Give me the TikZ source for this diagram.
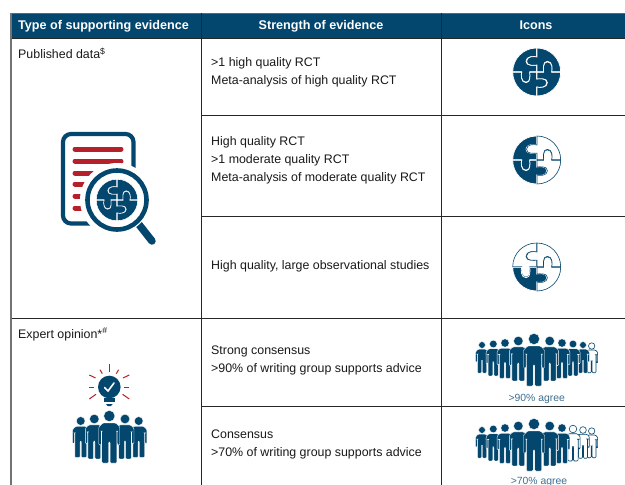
\documentclass[tikz,border=0pt]{standalone}
\usepackage{fontspec}
\setmainfont{Liberation Sans}
\definecolor{navy}{HTML}{03466E}
\definecolor{evred}{HTML}{B5202A}
\definecolor{agree}{HTML}{3F6F91}
\tikzset{
  body/.style={anchor=base west,inner sep=0pt,font=\fontsize{12.4}{14}\selectfont,text=black!90},
  head/.style={anchor=base,inner sep=0pt,text=white,font=\fontsize{12.6}{14}\selectfont\bfseries},
  rule/.style={line width=1pt,black!85},
  agreelabel/.style={anchor=base,inner sep=0pt,text=agree,font=\fontsize{10.4}{12}\selectfont},
  solidpiece/.style={fill=navy,draw=white,line width=.75pt},
  smallpiece/.style={fill=navy,draw=white,line width=.55pt},
  hollowpiece/.style={fill=white,draw=navy,line width=.6pt},
  solidperson/.style={fill=navy,draw=white,line width=.35pt},
  hollowperson/.style={fill=white,draw=navy,line width=.6pt},
  ray/.style={evred,line width=1pt},
  docline/.style={evred,line width=5pt,line cap=round}
}
% piece: rotation, style
\newcommand{\evpiece}[2]{%
  \begin{scope}[rotate=#1,shift={(-.012,.012)}]
  \path[#2] (0,0)--(-.28,0) .. controls (-.28,-.1) and (-.22,-.44) .. (-.44,-.44)
    .. controls (-.66,-.44) and (-.66,-.1) .. (-.62,0) -- (-1,0)
    arc[start angle=180,end angle=90,radius=1] -- (0,.62)
    .. controls (-.1,.66) and (-.44,.66) .. (-.44,.44)
    .. controls (-.44,.22) and (-.1,.28) .. (0,.28) -- cycle;
  \end{scope}}
% puzzle: x, y, r, TL, BL, BR, TR styles
\newcommand{\evpuzzle}[7]{%
  \begin{scope}[shift={(#1,#2)},x=#3pt,y=#3pt]
  \evpiece{0}{#4}\evpiece{90}{#5}\evpiece{180}{#6}\evpiece{270}{#7}
  \end{scope}}
% person: x, head y, scale, style
\newcommand{\evperson}[4]{%
  \begin{scope}[shift={(#1,#2)},x=#3pt,y=#3pt]
  \path[#4,rounded corners=1pt] (-6.5,-7) -- (6.5,-7) -- (10.5,-11) -- (10.5,-29) -- (8,-29) -- (8,-15)
    -- (7.5,-15) -- (7.5,-47) -- (.8,-47) -- (.8,-26) -- (-.8,-26) -- (-.8,-47) -- (-7.5,-47)
    -- (-7.5,-15) -- (-8,-15) -- (-8,-29) -- (-10.5,-29) -- (-10.5,-11) -- cycle;
  \path[#4] (0,0) circle (5.6);
  \end{scope}}
% crowd row: y offset, styles of the last three figures
\newcommand{\evcrowd}[4]{%
  \evperson{591.7}{346+#1}{.57}{#4}
  \evperson{583}{345+#1}{.6}{#3}
  \evperson{573}{344+#1}{.68}{#2}
  \evperson{482}{345+#1}{.6}{solidperson}
  \evperson{493.3}{344+#1}{.68}{solidperson}
  \evperson{505}{343+#1}{.75}{solidperson}
  \evperson{562}{343+#1}{.75}{solidperson}
  \evperson{518.3}{341+#1}{.85}{solidperson}
  \evperson{549.7}{341+#1}{.85}{solidperson}
  \evperson{534}{339+#1}{1}{solidperson}}
\begin{document}
\begin{tikzpicture}[x=1pt,y=-1pt]
\useasboundingbox (0,0) rectangle (625,485);
\clip (0,0) rectangle (625,485);
\fill[white] (0,0) rectangle (625,485);
% header
\fill[navy] (11,13) rectangle (625,38);
\draw[black!60,line width=.8pt] (11,13)--(625,13);
% rules
\draw[rule] (11,38)--(625,38);
\draw[rule] (201,115)--(625,115);
\draw[rule] (201,216)--(625,216);
\draw[rule] (11,318)--(625,318);
\draw[rule] (201,406)--(625,406);
\draw[rule] (201,13)--(201,485);
\draw[rule] (441,13)--(441,485);
\draw[black!55,line width=1.4pt] (11,13)--(11,485);
% header text
\node[head,anchor=base west] (h1) at (18,29) {Type of supporting evidence};
\node[head] (h2) at (321,29) {Strength of evidence};
\node[head] (h3) at (536,29) {Icons};
% first column
\node[body] (pub) at (18,58.5) {Published data\textsuperscript{\$}};
\node[body] (exp) at (18,338) {Expert opinion*\textsuperscript{\#}};
% second column
\node[body] (a1) at (211,66) {>1 high quality RCT};
\node[body] (a2) at (211,84) {Meta-analysis of high quality RCT};
\node[body] (b1) at (211,145) {High quality RCT};
\node[body] (b2) at (211,163) {>1 moderate quality RCT};
\node[body] (b3) at (211,181) {Meta-analysis of moderate quality RCT};
\node[body] (c1) at (211,269) {High quality, large observational studies};
\node[body] (d1) at (211,354) {Strong consensus};
\node[body] (d2) at (211,372) {>90\% of writing group supports advice};
\node[body] (e1) at (211,438) {Consensus};
\node[body] (e2) at (211,456) {>70\% of writing group supports advice};
% document icon
\draw[navy,line width=4.2pt,rounded corners=8pt] (63,134) rectangle (133.5,223.5);
\foreach \yy in {149,161,173,184,196,208} \draw[docline] (75,\yy)--(121,\yy);
\fill[white] (117,200) circle (37);
\draw[navy,line width=7.5pt,line cap=round] (137,222)--(152,241);
\fill[white] (117,200) circle (33);
\draw[navy,line width=4.6pt] (117,200) circle (29.5);
\evpuzzle{117}{200}{20.5}{smallpiece}{smallpiece}{smallpiece}{smallpiece}
% puzzle icons
\evpuzzle{536.7}{72}{23.7}{solidpiece}{solidpiece}{solidpiece}{solidpiece}
\evpuzzle{536.7}{160}{23.7}{solidpiece}{solidpiece}{hollowpiece}{hollowpiece}
\evpuzzle{536.7}{267}{23.7}{hollowpiece}{solidpiece}{hollowpiece}{hollowpiece}
% light bulb
\fill[navy] (109.3,387) circle (11.3);
\draw[white,line width=1.6pt,line cap=round] (104.6,387.5)--(108,391)--(114,383);
\fill[navy] (104,398) rectangle (115,402);
\fill[navy] (106,404) -- (112.7,404) -- (111,406) -- (107.6,406) -- cycle;
\begin{scope}[shift={(109.3,387)}]
\foreach \ax/\ay/\bx/\by in {0/-23.3/0/-15, 9.3/-17.3/7/-13.3, 20/-12/13.7/-9, 20/0/15/0, 20/12/13.3/7.3,
  -9.3/-17.3/-7/-13.3, -20/-12/-13.7/-9, -20/0/-15/0, -20/12/-13.3/7.3}
  \draw[ray] (\ax,\ay)--(\bx,\by);
\end{scope}
% expert group
\evperson{80.7}{421}{.78}{solidperson}
\evperson{138.7}{421}{.78}{solidperson}
\evperson{94.3}{419}{.85}{solidperson}
\evperson{125}{419}{.85}{solidperson}
\evperson{109.3}{416}{1}{solidperson}
% crowds
\evcrowd{0}{solidperson}{solidperson}{hollowperson}
\node[agreelabel] (g1) at (536.7,401) {>90\% agree};
\evcrowd{85}{hollowperson}{hollowperson}{hollowperson}
\node[agreelabel] (g2) at (539,484) {>70\% agree};
\end{tikzpicture}
\end{document}
